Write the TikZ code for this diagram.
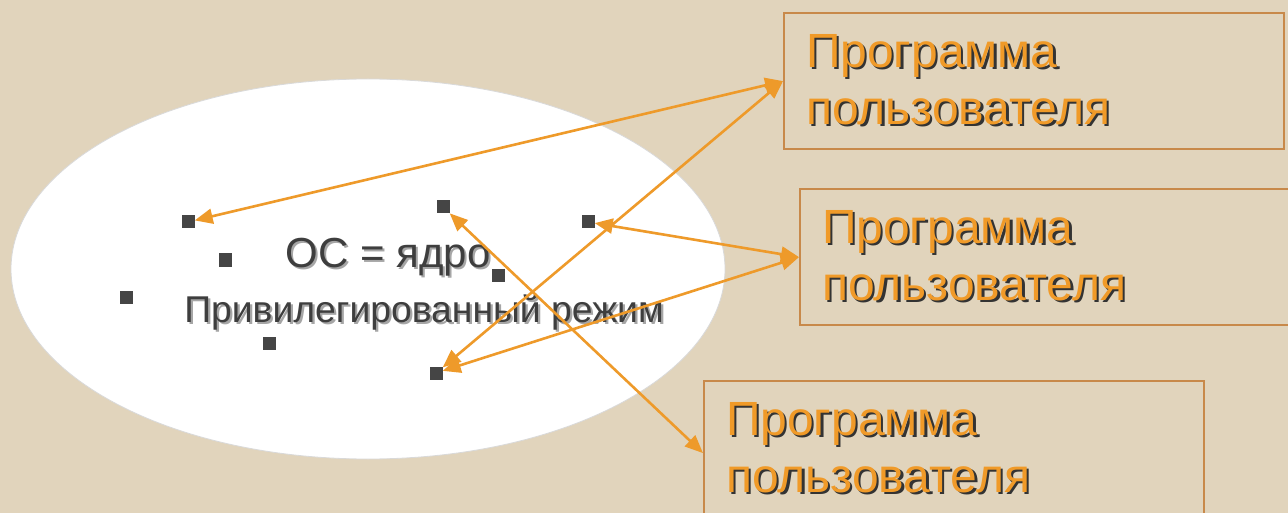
\documentclass[tikz,border=0pt]{standalone}
\usepackage{fontspec}
\setmainfont{Liberation Sans}
\usetikzlibrary{arrows.meta,shapes.geometric}
\definecolor{bgcol}{HTML}{E1D4BC}
\definecolor{orangecol}{HTML}{F09A28}
\definecolor{arrowcol}{HTML}{EE9A2A}
\definecolor{boxcol}{HTML}{C8894A}
\definecolor{darktext}{HTML}{3E3E3E}
\definecolor{sqcol}{HTML}{454545}
\newcommand\shtext[2]{\makebox[0pt][l]{\raisebox{-2.2pt}{\hspace{2.2pt}\textcolor{#1}{#2}}}#2}
\tikzset{
  sq/.style={fill=sqcol, draw=none, minimum size=13pt, inner sep=0pt},
  progbox/.style={draw=boxcol, line width=2.2pt, anchor=north west, align=left,
    text width=456pt, inner xsep=22pt, inner ysep=0pt, minimum height=136pt,
    text=orangecol, font=\fontsize{48}{57}\selectfont},
  link/.style={draw=arrowcol, line width=2.6pt,
    {Triangle[length=18pt,width=15pt]}-{Triangle[length=18pt,width=15pt]}}
}
\begin{document}
\begin{tikzpicture}[x=1pt,y=-1pt]
\useasboundingbox (0,0) rectangle (1288,513);
\fill[bgcol] (0,0) rectangle (1288,513);
% ellipse
\node[ellipse, fill=white, draw=black!15, line width=0.8pt, minimum width=714pt, minimum height=380pt, inner sep=0pt] (core) at (368,269) {};
% texts
\node[anchor=base, text=darktext, font=\fontsize{42}{48}\selectfont, inner sep=0pt] (t1) at (388,267) {\shtext{black!35}{ОС = ядро}};
\node[anchor=base, text=darktext, font=\fontsize{37.3}{42}\selectfont, inner sep=0pt] (t2) at (424,322) {\shtext{black!35}{Привилегированный режим}};
% squares
\node[sq] (s1) at (188,222) {};
\node[sq] (s2) at (443,207) {};
\node[sq] (s3) at (588,222) {};
\node[sq] (s4) at (225,260) {};
\node[sq] (s5) at (498,275) {};
\node[sq] (s6) at (126,297) {};
\node[sq] (s7) at (269,343) {};
\node[sq] (s8) at (436,373) {};
% boxes
\node[progbox] (b1) at (783,12) {\shtext{black!80}{Программа}\\\shtext{black!80}{пользователя}};
\node[progbox] (b2) at (799,188) {\shtext{black!80}{Программа}\\\shtext{black!80}{пользователя}};
\node[progbox] (b3) at (703,380) {\shtext{black!80}{Программа}\\\shtext{black!80}{пользователя}};
% connectors
\draw[link] (b1.west) -- (s1);
\draw[link] (b1.west) -- (s8);
\draw[link] (b2.west) -- (s3);
\draw[link] (b2.west) -- (s8);
\draw[link] ([yshift=-4pt]b3.west) -- (s2);
\end{tikzpicture}
\end{document}
